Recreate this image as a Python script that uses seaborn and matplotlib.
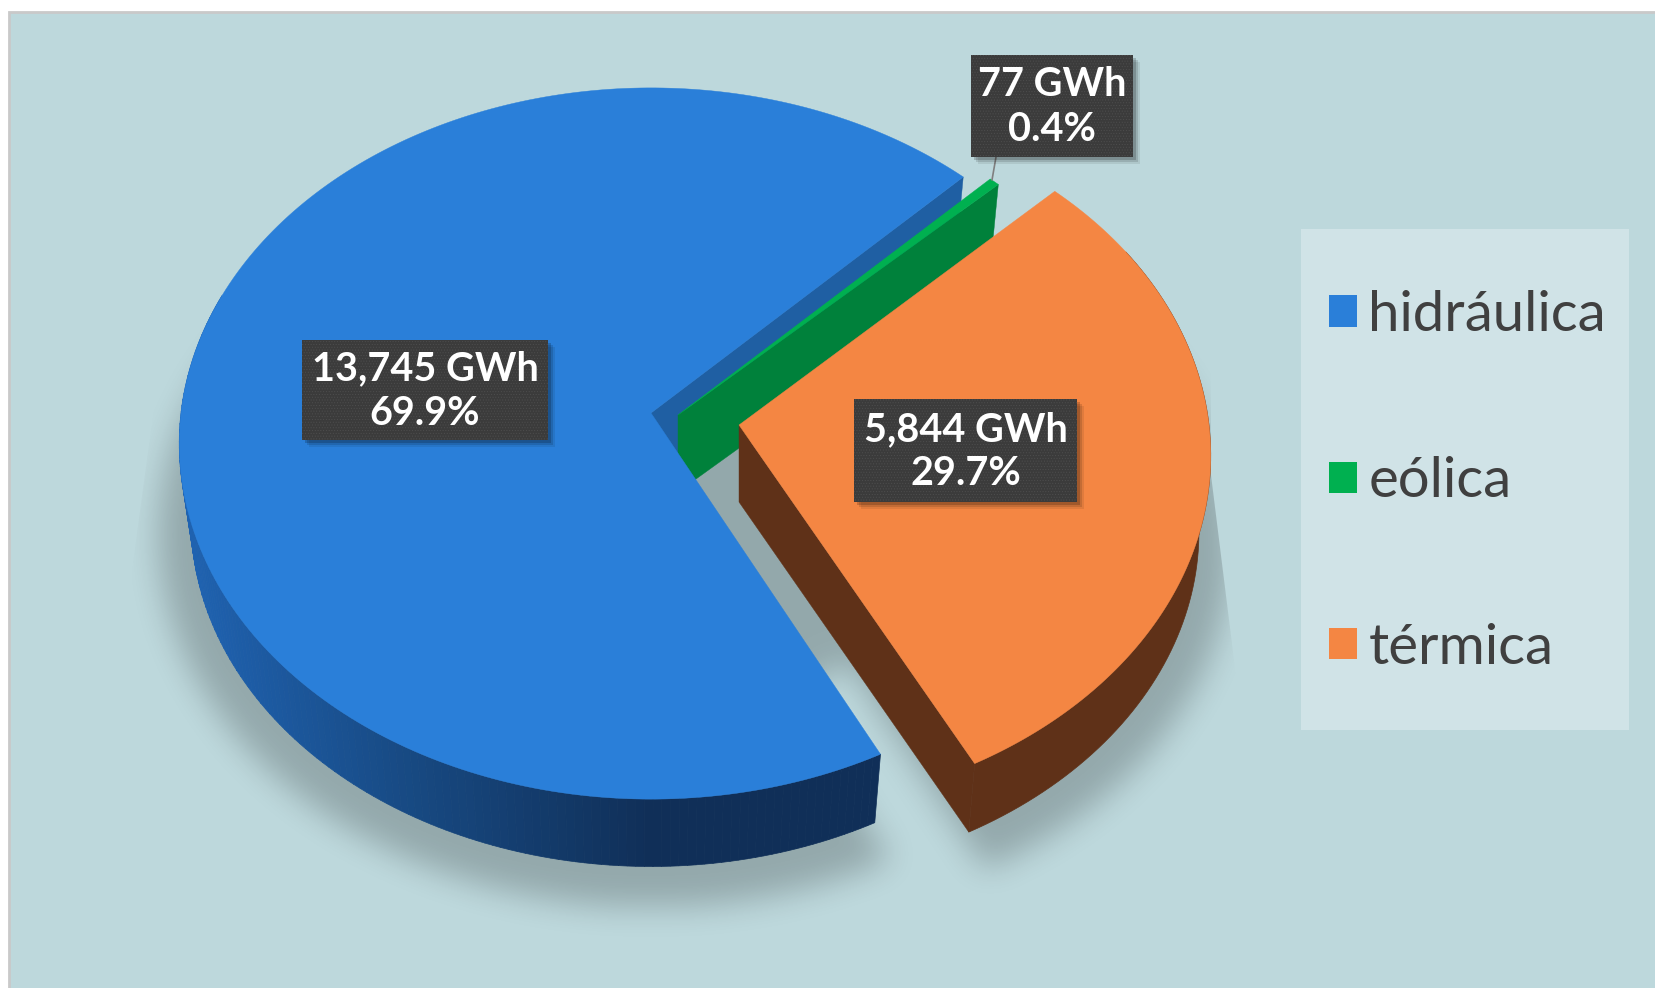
import numpy as np
import matplotlib
matplotlib.use('Agg')
import matplotlib.pyplot as plt
import seaborn as sns
from matplotlib.patches import Rectangle, Polygon, Patch
from matplotlib.path import Path

sources = ['hidráulica', 'eólica', 'térmica']
gwh = [13745, 77, 5844]
top_colors = ['#2A7FD9', '#00B050', '#F48643']
cut_colors = ['#1F5FA3', '#00813B', '#5F3118']

# layout, in pixels of the picture
first_angle = -63.2
apex = {'hidráulica': (651, 413), 'eólica': (678, 415), 'térmica': (739, 425)}
turn = {'hidráulica': 0, 'eólica': 0, 'térmica': 0.8}
label_boxes = {'hidráulica': (302, 340, 548, 440), 'eólica': (971, 55, 1133, 157), 'térmica': (854, 399, 1077, 502)}
rx, ry, persp = 470, 353, 0.0858
depth, base_scale = 77, 0.975

sns.set_theme(style='white')
plt.rcParams['font.family'] = ['Lato', 'DejaVu Sans']
plt.rcParams['hatch.linewidth'] = 0.4

fig = plt.figure(figsize=(16.56, 9.88), dpi=100, facecolor='white')
ax = fig.add_axes([0, 0, 1, 1])
ax.set_xlim(0, 1656)
ax.set_ylim(988, 0)
ax.axis('off')


def top_pts(name, deg):
    t = np.radians(np.atleast_1d(deg) + turn[name])
    w = 1 + persp * np.sin(t)
    return np.column_stack([apex[name][0] + rx * np.cos(t) / w, apex[name][1] - ry * np.sin(t) / w])


def base_pts(name, deg):
    p = top_pts(name, deg)
    a = np.array(apex[name])
    return a + (p - a) * base_scale + [0, depth]


def apex_base(name):
    return np.array([apex[name][0], apex[name][1] + depth])


def wall(name, a, b, color, z):
    # flat side face between two outlines
    th = np.linspace(a, b, 80)
    ax.add_patch(Polygon(np.vstack([top_pts(name, th), base_pts(name, th)[::-1]]), fc=color, ec=color, lw=0.5, zorder=z))


def cut_face(name, deg, color, z):
    p = top_pts(name, deg)[0]
    b = base_pts(name, deg)[0]
    ax.add_patch(Polygon([apex[name], p, b, apex_base(name)], fc=color, ec=color, lw=0.3, zorder=z))


def top_face(name, a, b, color, z):
    th = np.linspace(a, b, 240)
    ax.add_patch(Polygon(np.vstack([[apex[name]], top_pts(name, th)]), fc=color, ec=color, lw=0.3, zorder=z))


# slice angles come from the values, clockwise from first_angle
total = sum(gwh)
sweep = [360 * v / total for v in gwh]
bounds = {}
a = first_angle
for name, s in zip(sources, sweep):
    bounds[name] = (a, a - s)
    a -= s

# panel
ax.add_patch(Rectangle((9, 12), 1700, 1000, fc='#BDD8DC', ec='#C9C9C9', lw=2, zorder=0))

# soft shadow under the pie, the gaps between slices stay shaded too
gx, gy = np.meshgrid(np.arange(0, 1656, 2) + 1, np.arange(0, 988, 2) + 1)
grid = np.column_stack([gx.ravel(), gy.ravel()])
mask = np.zeros(gx.shape)
for name in sources:
    th = np.linspace(bounds[name][0], bounds[name][1], 200)
    a0 = apex_base(name)
    poly = np.vstack([[a0], a0 + (base_pts(name, th) - a0) * 1.07 + [0, 14]])
    mask = np.maximum(mask, Path(poly).contains_points(grid).reshape(gx.shape).astype(float))
hub = np.array(apex['térmica']) + [-40, 60]
hub_th = np.radians(np.arange(0, 360, 5))
hub_poly = np.column_stack([hub[0] + 230 * np.cos(hub_th), hub[1] + 230 * np.sin(hub_th)])
mask = np.maximum(mask, Path(hub_poly).contains_points(grid).reshape(gx.shape).astype(float))
kernel = np.ones(15) / 15
for _ in range(3):
    mask = np.apply_along_axis(lambda m: np.convolve(m, kernel, mode='same'), 0, mask)
    mask = np.apply_along_axis(lambda m: np.convolve(m, kernel, mode='same'), 1, mask)
rgba = np.zeros(mask.shape + (4,))
rgba[..., 3] = mask * 0.22
im = ax.imshow(rgba, extent=(0, 1656, 988, 0), aspect='auto', interpolation='bilinear', zorder=1)
clip = Polygon([(155, 12), (155, 400), (132, 570), (132, 988), (1236, 988), (1236, 676), (1211, 475), (1211, 12)],
               transform=ax.transData, fc='none', ec='none')
ax.add_patch(clip)
im.set_clip_path(clip)
ax.set_xlim(0, 1656)
ax.set_ylim(988, 0)

# hidráulica: cut face, outer wall shaded left to right
cut_face('hidráulica', bounds['hidráulica'][1] + 360, cut_colors[0], 2)
shade_x = [190, 420, 650, 880]
shade_r = [0x1F, 0x17, 0x10, 0x10]
shade_g = [0x62, 0x48, 0x2F, 0x2F]
shade_b = [0xB0, 0x80, 0x58, 0x58]
edges = np.linspace(-200, first_angle, 140)
for e0, e1 in zip(edges[:-1], edges[1:]):
    xm = top_pts('hidráulica', (e0 + e1) / 2)[0, 0]
    col = np.array([np.interp(xm, shade_x, shade_r), np.interp(xm, shade_x, shade_g), np.interp(xm, shade_x, shade_b)]) / 255
    wall('hidráulica', e0, e1, col, 3)

# eólica
cut_face('eólica', bounds['eólica'][1], cut_colors[1], 4)
top_face('eólica', bounds['eólica'][0], bounds['eólica'][1], top_colors[1], 5)

top_face('hidráulica', bounds['hidráulica'][0], bounds['hidráulica'][1], top_colors[0], 6)

# térmica
cut_face('térmica', first_angle, cut_colors[2], 7)
wall('térmica', first_angle, 30, cut_colors[2], 7)
top_face('térmica', bounds['térmica'][0], bounds['térmica'][1], top_colors[2], 8)

# data labels
ax.plot([996, 992], [157, 180], color='#7F7F7F', lw=1.2, zorder=9)
for name, v in zip(sources, gwh):
    x0, y0, x1, y1 = label_boxes[name]
    for off, al in [(7, 0.08), (5, 0.12), (3, 0.18)]:
        ax.add_patch(Rectangle((x0 + off, y0 + off), x1 - x0, y1 - y0, fc='black', ec='none', alpha=al, zorder=10))
    ax.add_patch(Rectangle((x0, y0), x1 - x0, y1 - y0, fc='#3B3B3B', ec='none', zorder=11))
    ax.add_patch(Rectangle((x0, y0), x1 - x0, y1 - y0, fc='none', ec='#4E4E4E', lw=0, hatch='......', zorder=11))
    ax.text((x0 + x1) / 2, (y0 + y1) / 2 + 1, f'{v:,} GWh\n{100 * v / total:.1f}%', color='white', fontsize=28.5,
            fontweight='bold', ha='center', va='center', linespacing=1.24, zorder=12)

# legend
ax.add_patch(Rectangle((1301, 229), 328, 501, fc='#D0E3E7', ec='none', zorder=1))
handles = [Patch(fc=c, ec='none', label=n) for n, c in zip(sources, top_colors)]
leg = ax.legend(handles=handles, loc='upper left', bbox_to_anchor=(1329, 290), bbox_transform=ax.transData,
                frameon=False, handlelength=0.5, handleheight=0.48, handletextpad=0.2,
                labelspacing=2.05, borderpad=0, borderaxespad=0, labelcolor='#404040',
                prop={'family': 'Lato', 'size': 40.5})
leg.set_zorder(13)

fig.savefig('out.png', dpi=100, facecolor='white')
